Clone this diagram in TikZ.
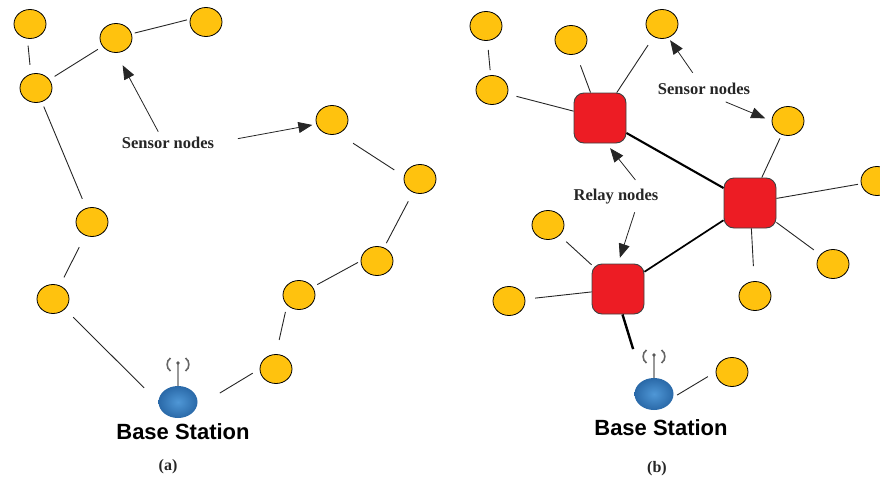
\documentclass[tikz,border=0pt]{standalone}
\usepackage{fontspec}
\setmainfont{Liberation Serif}
\newfontfamily\basefont{Liberation Sans}
\usepackage{tikz}
\usetikzlibrary{shapes.geometric,arrows.meta}
\definecolor{sensoryellow}{HTML}{FFC20E}
\definecolor{relayred}{HTML}{ED1C24}
\definecolor{basemid}{HTML}{4F97D6}
\definecolor{baseedge}{HTML}{2A69A8}
\tikzset{
	sensor/.style={ellipse, draw=black, line width=0.8pt, fill=sensoryellow, minimum width=32pt, minimum height=29pt, inner sep=0pt},
	relay/.style={rectangle, rounded corners=10pt, draw=black!75, line width=0.9pt, fill=relayred, minimum width=52pt, minimum height=50pt, inner sep=0pt},
	basenode/.style={ellipse, minimum width=39pt, minimum height=32pt, inner sep=0pt, inner color=basemid, outer color=baseedge},
	basetext/.style={font=\basefont\bfseries\fontsize{22}{22}\selectfont, text=black, inner sep=0pt},
	pointlabel/.style={font=\bfseries\fontsize{16.5}{16.5}\selectfont, text=black!85, inner sep=0pt},
	captiontext/.style={font=\bfseries\fontsize{16}{16}\selectfont, text=black!85, inner sep=0pt},
	link/.style={draw=black!85, line width=0.9pt},
	heavylink/.style={draw=black, line width=2.1pt},
	pointer/.style={draw=black!85, line width=0.8pt, -{Triangle[length=14pt,width=11pt]}}
}
\def\mast(#1,#2){
	\draw[line width=2pt, color=black!40] (#1, #2) -- (#1, #2+25);
	\fill[color=black!65] (#1, #2) circle (1.8);
	\draw[line width=1.6pt, color=black!60] (#1-7.5, #2-5) .. controls (#1-12, #2-2) and (#1-12, #2+5) .. (#1-7.5, #2+8);
	\draw[line width=1.6pt, color=black!60] (#1+7.5, #2-5) .. controls (#1+12, #2-2) and (#1+12, #2+5) .. (#1+7.5, #2+8);
}

\begin{document}
\begin{tikzpicture}[x=1pt, y=-1pt]
		%%%%% START %%%%%
		\useasboundingbox (0, 0) rectangle (880, 479);
		
		% left network
		\node[sensor] (a1) at (30, 24) {};
		\node[sensor] (a2) at (116, 38) {};
		\node[sensor] (a3) at (206, 22) {};
		\node[sensor] (a4) at (36, 88) {};
		\node[sensor] (a5) at (92, 222) {};
		\node[sensor] (a6) at (53, 299) {};
		\node[sensor] (a7) at (332, 120) {};
		\node[sensor] (a8) at (420, 179) {};
		\node[sensor] (a9) at (377, 261) {};
		\node[sensor] (a10) at (299, 295) {};
		\node[sensor] (a11) at (276, 369) {};
		\mast(178, 363)
		\node[basenode] (basea) at (178, 402) {};
		\node[basetext] (basealabel) at (183, 432) {Base Station};
		\node[pointlabel] (sensora) at (168, 143) {Sensor nodes};
		\node[captiontext] (capa) at (168, 467) {(a)};
		
		\draw[link, shorten <=7pt, shorten >=9pt] (a1.-100) -- (a4.110);
		\draw[link, shorten <=6pt, shorten >=5.5pt] (a4) -- (a2);
		\draw[link, shorten <=3pt, shorten >=3pt] (a2.15) -- (a3.170);
		\draw[link, shorten <=5pt, shorten >=10pt] (a4) -- (a5);
		\draw[link, shorten <=13pt, shorten >=9pt] (a5) -- (a6);
		\draw[link, shorten <=11.5pt, shorten >=20pt] (a6.-40) -- (basea.west);
		\draw[link, shorten <=27pt, shorten >=8pt] (basea.-15) -- (a11.west);
		\draw[link, shorten <=14.5pt, shorten >=7pt] (a11.north) -- (a10.220);
		\draw[link, shorten <=5pt, shorten >=3pt] (a10.30) -- (a9.west);
		\draw[link, shorten <=5pt, shorten >=10pt] (a9) -- (a8);
		\draw[link, shorten <=11.5pt, shorten >=17.5pt] (a8.170) -- (a7.-65);
		
		\draw[pointer, shorten <=6pt, shorten >=14pt] (sensora.139) -- (a2.south);
		\draw[pointer, shorten <=24pt, shorten >=4pt] (sensora.east) -- (a7.195);
		
		% right network
		\node[sensor] (b1) at (486, 26) {};
		\node[sensor] (b2) at (571, 40) {};
		\node[sensor] (b3) at (662, 24) {};
		\node[sensor] (b4) at (492, 90) {};
		\node[sensor] (b5) at (788, 121) {};
		\node[sensor] (b6) at (877, 181) {};
		\node[sensor] (b7) at (833, 264) {};
		\node[sensor] (b8) at (755, 296) {};
		\node[sensor] (b9) at (548, 225) {};
		\node[sensor] (b10) at (509, 301) {};
		\node[sensor] (b11) at (732, 372) {};
		\node[relay] (r1) at (600, 118) {};
		\node[relay] (r2) at (750, 203) {};
		\node[relay] (r3) at (618, 289) {};
		\mast(654, 355)
		\node[basenode] (baseb) at (654, 394) {};
		\node[basetext] (baseblabel) at (661, 428) {Base Station};
		\node[pointlabel] (sensorb) at (704, 89) {Sensor nodes};
		\node[pointlabel] (relayb) at (616, 197) {Relay nodes};
		\node[captiontext] (capb) at (657, 469) {(b)};
		
		\draw[link, shorten <=9pt, shorten >=5pt] (b1) -- (b4);
		\draw[link, shorten <=9pt] (b4) -- (r1);
		\draw[link, shorten <=12pt] (b2) -- (r1);
		\draw[link, shorten <=10pt] (b3) -- (r1);
		\draw[heavylink] (r1) -- (r2);
		\draw[link, shorten >=4pt] (r2) -- (b5);
		\draw[link, shorten >=3pt] (r2) -- (b6);
		\draw[link, shorten >=8pt] (r2) -- (b7);
		\draw[link, shorten >=15pt] (r2) -- (b8);
		\draw[heavylink, line width=1.7pt] (r2) -- (r3);
		\draw[link, shorten >=9pt] (r3) -- (b9);
		\draw[link, shorten >=10pt] (r3) -- (b10);
		\draw[heavylink, line width=2.4pt, shorten >=33pt] (r3.-80) -- (baseb.130);
		\draw[link, shorten <=4.5pt, shorten >=9pt] (baseb.-10) -- (b11.west);
		
		\draw[pointer, shorten <=12.5pt, shorten >=3pt] (sensorb.125) -- (b3.-65);
		\draw[pointer, shorten <=18pt, shorten >=7pt] (sensorb.-50) -- (b5.west);
		\draw[pointer, shorten <=12pt, shorten >=6pt] (relayb.16) -- (r1.-76);
		\draw[pointer, shorten <=8pt, shorten >=6pt] (relayb.-20) -- (r3.north);
		
		%%%%% END %%%%%
	\end{tikzpicture}
\end{document}
